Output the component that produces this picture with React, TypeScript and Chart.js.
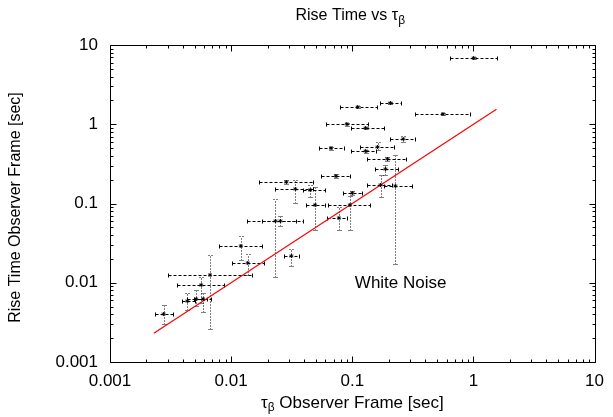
import React, { useEffect, useRef } from "react";
import { Chart, registerables } from "chart.js";

Chart.register(...registerables);

// Decade tick labels (both axes)
const tickLabels = ["0.001", "0.01", "0.1", "1", "10"];

// tau_beta (observer frame) with lower / upper error
const tauVal = [0.00277, 0.00435, 0.00515, 0.00587, 0.00566, 0.0067, 0.01202, 0.01371, 0.03141, 0.02323, 0.02553, 0.02858, 0.03386, 0.04492, 0.04935, 0.09541, 0.07755, 0.1, 0.07328, 0.06669, 0.09016, 0.1109, 0.2065, 0.129, 0.2638, 0.1617, 0.129, 0.1952, 0.1879, 0.1711, 0.2269, 0.5604, 1.005];
const tauLo = [0.00233, 0.00396, 0.00435, 0.00496, 0.0036, 0.00304, 0.00794, 0.01014, 0.02752, 0.01345, 0.018, 0.01687, 0.02323, 0.0394, 0.04165, 0.06304, 0.062, 0.0836, 0.05526, 0.0532, 0.06069, 0.07857, 0.1679, 0.09721, 0.2065, 0.1151, 0.09721, 0.1314, 0.1528, 0.1314, 0.1844, 0.3307, 0.6393];
const tauHi = [0.00334, 0.00505, 0.00633, 0.00683, 0.00872, 0.01478, 0.01785, 0.01853, 0.0365, 0.03937, 0.034, 0.04752, 0.04752, 0.05957, 0.05957, 0.139, 0.09, 0.12, 0.09541, 0.08519, 0.1339, 0.1586, 0.2541, 0.1844, 0.3307, 0.2227, 0.1557, 0.2791, 0.2401, 0.2145, 0.3126, 0.9318, 1.579];

// Rise time (observer frame) with lower / upper error
const riseVal = [0.00403, 0.00588, 0.00624, 0.00624, 0.00937, 0.01253, 0.02909, 0.01775, 0.02176, 0.06014, 0.06014, 0.1867, 0.1524, 0.148, 0.09575, 0.09575, 0.06562, 0.1357, 0.2223, 0.5016, 1.007, 1.651, 1.854, 0.8968, 0.6514, 0.5164, 0.4597, 0.3642, 0.2724, 0.1712, 0.1663, 1.347, 6.855];
const riseLo = [0.00302, 0.00453, 0.00509, 0.00428, 0.0055, 0.00261, 0.01937, 0.01253, 0.01627, 0.01182, 0.052, 0.175, 0.1015, 0.1208, 0.04629, 0.04629, 0.04629, 0.128, 0.21, 0.48, 0.96, 1.6, 1.8, 0.87, 0.5971, 0.4733, 0.44, 0.34, 0.2289, 0.1218, 0.01724, 1.3, 6.6];
const riseHi = [0.00524, 0.00743, 0.0081, 0.00743, 0.01182, 0.02239, 0.03891, 0.02306, 0.02667, 0.114, 0.07, 0.2, 0.198, 0.1712, 0.1615, 0.126, 0.0903, 0.143, 0.235, 0.52, 1.05, 1.7, 1.9, 0.93, 0.7108, 0.5971, 0.48, 0.39, 0.3059, 0.2289, 0.4093, 1.4, 7.1];

// White-noise relation line (y = x)
const lineX = [0.0023, 1.55];
const lineY = [0.0023, 1.55];

const FONT = "'Liberation Sans', Arial, Helvetica, sans-serif";

type Part = { t: string; sub?: boolean };

function drawParts(ctx: CanvasRenderingContext2D, parts: Part[], cx: number, cy: number, size: number) {
  const subSize = Math.round(size * 0.72);
  let total = 0;
  const widths: number[] = [];
  for (const p of parts) {
    ctx.font = `${p.sub ? subSize : size}px ${FONT}`;
    const w = ctx.measureText(p.t).width;
    widths.push(w);
    total += w;
  }
  let x = cx - total / 2;
  ctx.textAlign = "left";
  ctx.textBaseline = "middle";
  parts.forEach((p, i) => {
    ctx.font = `${p.sub ? subSize : size}px ${FONT}`;
    ctx.fillText(p.t, x, p.sub ? cy + size * 0.3 : cy);
    x += widths[i];
  });
}

const decorPlugin = {
  id: "decor",
  beforeDatasetsDraw(chart: any) {
    const ctx: CanvasRenderingContext2D = chart.ctx;
    const xs = chart.scales.x;
    const ys = chart.scales.y;
    ctx.save();
    ctx.strokeStyle = "#000";
    ctx.lineWidth = 1;
    for (let i = 0; i < tauVal.length; i++) {
      const px = Math.round(xs.getPixelForValue(tauVal[i])) + 0.5;
      const py = Math.round(ys.getPixelForValue(riseVal[i])) + 0.5;
      const x0 = Math.round(xs.getPixelForValue(tauLo[i])) + 0.5;
      const x1 = Math.round(xs.getPixelForValue(tauHi[i])) + 0.5;
      const y0 = Math.round(ys.getPixelForValue(riseLo[i])) + 0.5;
      const y1 = Math.round(ys.getPixelForValue(riseHi[i])) + 0.5;
      // horizontal dashed error bar
      ctx.setLineDash([3, 2]);
      ctx.beginPath();
      ctx.moveTo(x0, py);
      ctx.lineTo(x1, py);
      ctx.stroke();
      ctx.setLineDash([]);
      ctx.beginPath();
      ctx.moveTo(x0, py - 2);
      ctx.lineTo(x0, py + 2);
      ctx.moveTo(x1, py - 2);
      ctx.lineTo(x1, py + 2);
      ctx.stroke();
      // vertical dotted error bar
      ctx.setLineDash([1, 2]);
      ctx.beginPath();
      ctx.moveTo(px, y0);
      ctx.lineTo(px, y1);
      ctx.moveTo(px - 2, y0);
      ctx.lineTo(px + 3, y0);
      ctx.moveTo(px - 2, y1);
      ctx.lineTo(px + 3, y1);
      ctx.stroke();
    }
    ctx.restore();
  },
  afterDraw(chart: any) {
    const ctx: CanvasRenderingContext2D = chart.ctx;
    const xs = chart.scales.x;
    const ys = chart.scales.y;
    const a = chart.chartArea;
    const L = Math.round(a.left) + 0.5;
    const R = Math.round(a.right) + 0.5;
    const T = Math.round(a.top) + 0.5;
    const B = Math.round(a.bottom) + 0.5;
    ctx.save();
    ctx.strokeStyle = "#000";
    ctx.lineWidth = 1;
    ctx.setLineDash([]);
    ctx.beginPath();
    ctx.rect(L, T, R - L, B - T);
    ctx.stroke();
    // inward ticks on all four sides
    ctx.beginPath();
    for (let e = -3; e <= 1; e++) {
      for (let m = 1; m <= 9; m++) {
        const v = m * Math.pow(10, e);
        if (v > 10.0001) continue;
        const len = m === 1 ? 6 : 3;
        const px = Math.round(xs.getPixelForValue(v)) + 0.5;
        ctx.moveTo(px, B);
        ctx.lineTo(px, B - len);
        ctx.moveTo(px, T);
        ctx.lineTo(px, T + len);
        const py = Math.round(ys.getPixelForValue(v)) + 0.5;
        ctx.moveTo(L, py);
        ctx.lineTo(L + len, py);
        ctx.moveTo(R, py);
        ctx.lineTo(R - len, py);
      }
    }
    ctx.stroke();

    ctx.fillStyle = "#000";
    const cx = (a.left + a.right) / 2;
    drawParts(ctx, [{ t: "Rise Time vs τ" }, { t: "β", sub: true }], cx - 2, 16, 16);
    drawParts(ctx, [{ t: "τ" }, { t: "β", sub: true }, { t: " Observer Frame [sec]" }], cx, 403, 17);
    ctx.save();
    ctx.translate(16, (a.top + a.bottom) / 2 + 4);
    ctx.rotate(-Math.PI / 2);
    drawParts(ctx, [{ t: "Rise Time Observer Frame [sec]" }], 0, 0, 16);
    ctx.restore();

    ctx.font = `17px ${FONT}`;
    ctx.textAlign = "left";
    ctx.textBaseline = "middle";
    ctx.fillText("White Noise", xs.getPixelForValue(0.105), ys.getPixelForValue(0.0098));
    ctx.restore();
  },
};

function labelFor(v: number): string {
  const lg = Math.log10(v);
  const e = Math.round(lg);
  if (Math.abs(lg - e) < 1e-6 && e >= -3 && e <= 1) return tickLabels[e + 3];
  return "";
}

export default function App() {
  const ref = useRef<HTMLCanvasElement | null>(null);
  useEffect(() => {
    if (!ref.current) return;
    const points = tauVal.map((x, i) => ({ x, y: riseVal[i] }));
    const line = lineX.map((x, i) => ({ x, y: lineY[i] }));
    const chart = new Chart(ref.current, {
      type: "scatter",
      data: {
        datasets: [
          {
            data: points,
            pointStyle: "star",
            pointRadius: 2,
            borderColor: "#000",
            backgroundColor: "#000",
            borderWidth: 1,
          },
          {
            data: line,
            showLine: true,
            borderColor: "#ff0000",
            borderWidth: 1.2,
            pointRadius: 0,
            fill: false,
          },
        ],
      } as any,
      options: {
        animation: false,
        responsive: false,
        devicePixelRatio: 1,
        layout: { padding: { top: 45, right: 14, left: 0, bottom: 0 } },
        plugins: { legend: { display: false }, title: { display: false }, tooltip: { enabled: false } },
        scales: {
          x: {
            type: "logarithmic",
            position: "bottom",
            min: 0.001,
            max: 10,
            grid: { display: false, drawTicks: false },
            border: { display: false },
            ticks: {
              autoSkip: false,
              maxRotation: 0,
              minRotation: 0,
              padding: 9,
              color: "#000",
              font: { family: FONT, size: 17 },
              callback: (v: any) => labelFor(Number(v)),
            },
            afterFit: (s: any) => {
              s.height = 55;
            },
          },
          y: {
            type: "logarithmic",
            position: "left",
            min: 0.001,
            max: 10,
            grid: { display: false, drawTicks: false },
            border: { display: false },
            ticks: {
              autoSkip: false,
              padding: 12,
              color: "#000",
              font: { family: FONT, size: 17 },
              callback: (v: any) => labelFor(Number(v)),
            },
            afterFit: (s: any) => {
              s.width = 110;
            },
          },
        },
      } as any,
      plugins: [decorPlugin],
    });
    return () => chart.destroy();
  }, []);
  return (
    <div style={{ position: "fixed", left: 0, top: 0, width: 613, height: 417, background: "#fff" }}>
      <canvas ref={ref} width={613} height={417} style={{ width: 613, height: 417 }} />
    </div>
  );
}
